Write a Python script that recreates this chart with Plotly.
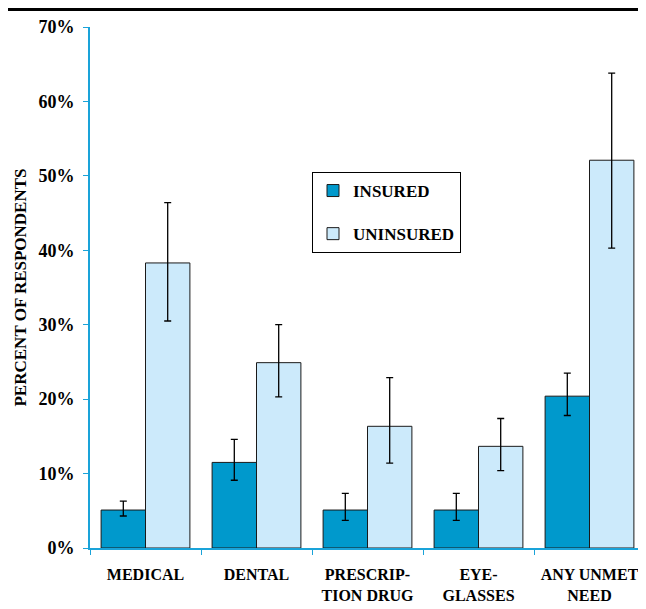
import plotly.graph_objects as go

# Unmet health needs by insurance status (in %)
categories = ["MEDICAL", "DENTAL", "PRESCRIP-<br>TION DRUG", "EYE-<br>GLASSES", "ANY UNMET<br>NEED"]

insured = [5.1, 11.5, 5.1, 5.1, 20.4]
insured_hi = [6.3, 14.6, 7.35, 7.35, 23.5]
insured_lo = [4.3, 9.1, 3.7, 3.7, 17.8]

uninsured = [38.3, 24.9, 16.35, 13.66, 52.1]
uninsured_hi = [46.4, 30.0, 22.9, 17.4, 63.8]
uninsured_lo = [30.5, 20.3, 11.4, 10.4, 40.3]

y_ticks = [0, 10, 20, 30, 40, 50, 60, 70]

FONT = "Liberation Serif"
AXIS_BLUE = "#1aa3d9"


def err(vals, hi, lo):
    return dict(type="data", symmetric=False,
                array=[h - v for h, v in zip(hi, vals)],
                arrayminus=[v - l for v, l in zip(vals, lo)],
                color="black", thickness=1.3, width=3.5)


fig = go.Figure()
fig.add_trace(go.Bar(x=categories, y=insured, name="<b>INSURED</b>", legendgroup="a",
                     marker=dict(color="#0099cc", line=dict(color="#1a1a1a", width=1)),
                     error_y=err(insured, insured_hi, insured_lo)))
fig.add_trace(go.Bar(x=categories, y=uninsured, name="<b>UNINSURED</b>", legendgroup="b",
                     marker=dict(color="#cceafb", line=dict(color="#1a1a1a", width=1)),
                     error_y=err(uninsured, uninsured_hi, uninsured_lo)))

# page body has an 8px margin, so the figure is a bit smaller than the window
fig.update_layout(
    width=638, height=601,
    margin=dict(l=82, r=1, t=19, b=61),
    paper_bgcolor="white", plot_bgcolor="white",
    barmode="group", bargap=0.2, bargroupgap=0,
    font=dict(family=FONT, size=16, color="black"),
    showlegend=True,
    legend=dict(x=0.4, y=0.7217, xanchor="left", yanchor="top",
                bordercolor="black", borderwidth=1, bgcolor="white",
                font=dict(family=FONT, size=17, color="black"),
                tracegroupgap=18, itemwidth=30),
    shapes=[dict(type="rect", xref="paper", yref="paper",
                 x0=-0.1505, x1=1.1, y0=-0.3, y1=1.0336,
                 line=dict(color="black", width=3))],
)

fig.update_xaxes(showline=True, linecolor=AXIS_BLUE, linewidth=2,
                 ticks="outside", tickson="boundaries", ticklen=5, tickcolor=AXIS_BLUE,
                 tickvals=categories, ticktext=[f"<b>{c}</b>" for c in categories],
                 tickfont=dict(family=FONT, size=16, color="black"),
                 ticklabelstandoff=11, showgrid=False)
fig.update_yaxes(range=[0, 70], tickvals=y_ticks, ticktext=[f"<b>{t}%</b>" for t in y_ticks],
                 showline=True, linecolor=AXIS_BLUE, linewidth=2,
                 ticks="outside", ticklen=5, tickcolor=AXIS_BLUE, showgrid=False, zeroline=False,
                 tickfont=dict(family=FONT, size=18, color="black"), ticklabelstandoff=5,
                 title=dict(text="<b>PERCENT OF RESPONDENTS</b>", standoff=7,
                            font=dict(family=FONT, size=17, color="black")))

fig.write_html("out.html")
